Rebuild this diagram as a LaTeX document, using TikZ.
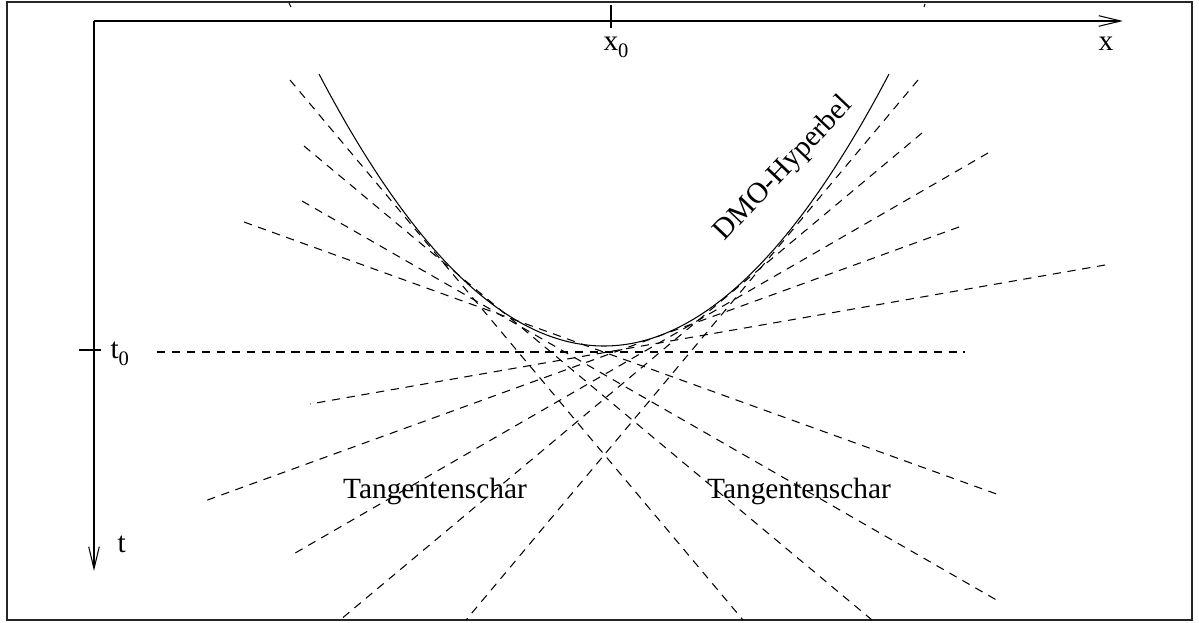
\documentclass[tikz,border=0pt]{standalone}
\usepackage{fontspec}
\setmainfont{Liberation Serif}
\usepackage{tikz}
\usetikzlibrary{calc, arrows.meta}

\newcommand{\lowidx}[1]{\raisebox{-0.24em}{\fontsize{11.7}{12}\selectfont #1}}

\begin{document}
\begin{tikzpicture}[x=0.02cm, y=-0.02cm, line width=0.6pt,
  >={Straight Barb[length=12.5pt, width=6pt]},
  tangente/.style={dash pattern=on 4.7pt off 3.8pt},
  beschr/.style={font=\fontsize{16.7}{20}\selectfont, inner sep=0pt}]

\useasboundingbox (0,0) rectangle (1199,622);

% Rahmen
\draw[line width=0.8pt, black!85] (7,2) rectangle (1192,620);

% Achsen
\coordinate (O) at (94,21);
\draw[->] (O) -- (1123,21);
\draw[->] (O) -- (94,571);
\node[beschr, anchor=base west] (xlab) at (1098,50) {x};
\node[beschr, anchor=base west] (tlab) at (117,552) {t};

% x_0 und t_0
\draw (611,5) -- (611,28);
\node[beschr, anchor=base west] (x0lab) at (603,50) {x\lowidx{0}};
\draw (79,350) -- (101,350);
\node[beschr, anchor=base west] (t0lab) at (110,358) {t\lowidx{0}};

% kleine Reste am oberen Rand
\draw (289,3) -- (291,7);
\draw (925,4) -- (924,7);

% DMO-Hyperbel
\draw plot[domain=-1:1, samples=80, smooth] ({604+285*\x}, {346-272*\x*\x});
\node[beschr, anchor=base, rotate=46.5] (hyp) at (789,174) {DMO-Hyperbel};

% Tangenten
\coordinate (H1) at (157,352);  \coordinate (H2) at (965,352);
\coordinate (L1a) at (290,80);  \coordinate (L1b) at (743,620);
\coordinate (L2a) at (304,146); \coordinate (L2b) at (872,620);
\coordinate (L3a) at (302,201); \coordinate (L3b) at (1000,602);
\coordinate (L4a) at (244,222); \coordinate (L4b) at (1002,496);
\coordinate (R1a) at (918,80);  \coordinate (R1b) at (466,620);
\coordinate (R2a) at (922,133); \coordinate (R2b) at (340,620);
\coordinate (R3a) at (988,153); \coordinate (R3b) at (290,556);
\coordinate (R4a) at (959,227); \coordinate (R4b) at (202,502);
\coordinate (R5a) at (1105,265); \coordinate (R5b) at (310,404);

\draw[tangente] (H1) -- (H2);
\draw[tangente] (L1a) -- (L1b);
\draw[tangente] (L2a) -- (L2b);
\draw[tangente] (L3a) -- (L3b);
\draw[tangente] (L4a) -- (L4b);
\draw[tangente] (R1a) -- (R1b);
\draw[tangente] (R2a) -- (R2b);
\draw[tangente] (R3a) -- (R3b);
\draw[tangente] (R4a) -- (R4b);
\draw[tangente] (R5a) -- (R5b);

% Beschriftung
\node[beschr, anchor=base] (schar1) at (435,498) {Tangentenschar};
\node[beschr, anchor=base] (schar2) at (799,498) {Tangentenschar};

\end{tikzpicture}
\end{document}
